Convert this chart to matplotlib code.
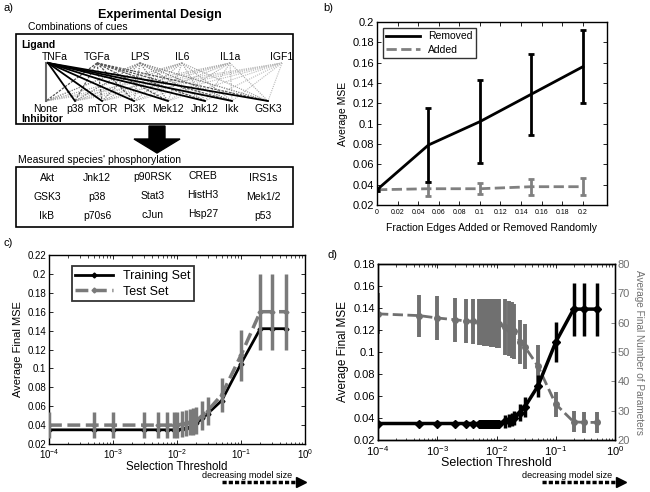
import math
import matplotlib
matplotlib.use('Agg')
import matplotlib.pyplot as plt
from matplotlib.patches import FancyArrow, Rectangle
from matplotlib.ticker import FuncFormatter, FixedLocator, LogLocator, NullFormatter

plt.rcParams['font.family'] = ['Liberation Sans', 'DejaVu Sans']
plt.rcParams['mathtext.fontset'] = 'custom'
plt.rcParams['mathtext.rm'] = 'Liberation Sans'
plt.rcParams['mathtext.it'] = 'Liberation Sans:italic'
plt.rcParams['axes.linewidth'] = 1.0

# ---- data ----
ligands = ['TNFa', 'TGFa', 'LPS', 'IL6', 'IL1a', 'IGF1']
inhibitors = ['None', 'p38', 'mTOR', 'PI3K', 'Mek12', 'Jnk12', 'Ikk', 'GSK3']
species_cols = [['Akt', 'GSK3', 'IkB'],
                ['Jnk12', 'p38', 'p70s6'],
                ['p90RSK', 'Stat3', 'cJun'],
                ['CREB', 'HistH3', 'Hsp27'],
                ['IRS1s', 'Mek1/2', 'p53']]

# b) random edges
frac = [0, 0.05, 0.1, 0.15, 0.2]
removed_mse = [0.035, 0.079, 0.102, 0.129, 0.156]
removed_err = [0.0015, 0.036, 0.041, 0.040, 0.036]
added_mse = [0.035, 0.036, 0.036, 0.038, 0.038]
added_err = [0.0015, 0.007, 0.0055, 0.008, 0.0085]

# c) threshold vs training / test
thr_c = [1e-4, 5e-4, 1e-3, 3e-3, 5e-3, 7e-3, 9e-3, 1e-2, 0.012, 0.014,
         0.016, 0.018, 0.02, 0.025, 0.03, 0.05, 0.1, 0.2, 0.3, 0.5]
train_c = [0.035, 0.035, 0.035, 0.035, 0.035, 0.035, 0.035, 0.035, 0.036, 0.037,
           0.038, 0.040, 0.042, 0.047, 0.052, 0.066, 0.105, 0.142, 0.142, 0.142]
test_c = [0.040, 0.040, 0.040, 0.040, 0.040, 0.040, 0.040, 0.040, 0.041, 0.042,
          0.043, 0.044, 0.045, 0.050, 0.055, 0.072, 0.114, 0.160, 0.160, 0.160]
test_err_c = [0.014, 0.014, 0.014, 0.014, 0.014, 0.014, 0.014, 0.014, 0.014, 0.014,
              0.014, 0.014, 0.014, 0.015, 0.015, 0.018, 0.027, 0.040, 0.040, 0.040]

# d) threshold vs MSE and number of parameters
thr_d = [1e-4, 5e-4, 1e-3, 2e-3, 3e-3, 4e-3,
         5e-3, 5.25e-3, 5.5e-3, 5.75e-3, 6e-3, 6.25e-3, 6.5e-3, 6.75e-3, 7e-3, 7.25e-3,
         7.5e-3, 7.75e-3, 8e-3, 8.25e-3, 8.5e-3, 8.75e-3, 9e-3, 9.25e-3, 9.5e-3, 9.75e-3,
         1e-2, 1.05e-2, 1.1e-2,
         0.014, 0.016, 0.018, 0.02, 0.025, 0.03, 0.05, 0.1, 0.2, 0.3, 0.5]
mse_d = [0.035, 0.035, 0.035, 0.035, 0.035, 0.035,
         0.035, 0.035, 0.035, 0.035, 0.035, 0.035, 0.035, 0.035, 0.035, 0.035,
         0.035, 0.035, 0.035, 0.035, 0.035, 0.035, 0.035, 0.035, 0.035, 0.035,
         0.035, 0.035, 0.035,
         0.037, 0.038, 0.039, 0.040, 0.045, 0.050, 0.069, 0.109, 0.139, 0.139, 0.139]
mse_err_d = [0.002, 0.002, 0.002, 0.002, 0.002, 0.002,
             0.002, 0.002, 0.002, 0.002, 0.002, 0.002, 0.002, 0.002, 0.002, 0.002,
             0.002, 0.002, 0.002, 0.002, 0.002, 0.002, 0.002, 0.002, 0.002, 0.002,
             0.002, 0.002, 0.002,
             0.006, 0.006, 0.006, 0.006, 0.008, 0.009, 0.010, 0.018, 0.024, 0.024, 0.024]
npar_d = [63.0, 62.4, 61.6, 61.0, 60.6, 60.4,
          60.3, 60.3, 60.2, 60.2, 60.2, 60.1, 60.1, 60.1, 60.0, 60.0,
          60.0, 60.0, 59.9, 59.9, 59.9, 59.9, 59.8, 59.8, 59.8, 59.8,
          59.7, 59.7, 59.6,
          58.5, 58.0, 57.5, 57.0, 53.5, 51.8, 45.2, 32.2, 26.2, 26.0, 26.0]
npar_err_d = [7.0, 7.2, 7.4, 7.5, 7.6, 7.7,
              7.8, 7.8, 7.9, 7.9, 7.9, 8.0, 8.0, 8.0, 8.0, 8.0,
              8.1, 8.1, 8.1, 8.1, 8.1, 8.2, 8.2, 8.2, 8.2, 8.2,
              8.3, 8.3, 8.3,
              9.5, 9.5, 9.5, 9.5, 7.5, 7.7, 7.1, 4.2, 3.6, 3.6, 3.6]

W, H = 650, 492
fig = plt.figure(figsize=(6.5, 4.92), dpi=100)


def px_axes(l, t, r, b):
    return fig.add_axes([l / W, 1 - b / H, (r - l) / W, (b - t) / H])


def matlab_style(ax, size=8):
    ax.tick_params(direction='in', top=True, right=True, length=3, width=0.6,
                   labelsize=size, pad=2)
    ax.tick_params(axis='x', pad=3)
    ax.tick_params(which='minor', direction='in', top=True, right=True, length=1.8, width=0.5)


gfmt = FuncFormatter(lambda v, p: f'{round(v, 4):g}')
logfmt = FuncFormatter(lambda v, p: r'$10^{%d}$' % round(math.log10(v)))

# ---- overlay for panel a and annotations ----
ov = fig.add_axes([0, 0, 1, 1])
ov.set_xlim(0, W)
ov.set_ylim(H, 0)
ov.axis('off')
ov.set_zorder(5)

ov.text(3, 8, 'a)', fontsize=8, va='center')
ov.text(160, 15, 'Experimental Design', fontsize=9, weight='bold', ha='center', va='center')
ov.text(28, 27, 'Combinations of cues', fontsize=7.5, va='center')
ov.add_patch(Rectangle((16, 34), 277, 90, fill=False, lw=1.2, ec='black'))
ov.text(21, 45, 'Ligand', fontsize=7.5, weight='bold', va='center')
ov.text(21, 119, 'Inhibitor', fontsize=7.5, weight='bold', va='center')

lig_x = [55, 97, 140, 182, 230, 282]
inh_x = [46, 75, 102, 134, 168, 205, 232, 268]
lig_styles = [('black', '-', 1.3), ('#555555', (0, (2, 1)), 0.9), ('#7a7a7a', (0, (1, 1)), 0.9),
              ('#9a9a9a', (0, (1, 1)), 0.8), ('#aaaaaa', (0, (1, 1)), 0.8), ('#bbbbbb', (0, (1, 1)), 0.8)]
for i in range(len(ligands) - 1, -1, -1):
    col, ls, lw = lig_styles[i]
    sx = 48 if i == 0 else lig_x[i]
    for j in range(len(inhibitors)):
        if i == 0 and j == 0:
            ov.plot([46, 46], [63, 101], color='#666666', lw=1.5, zorder=3)
            continue
        ov.plot([sx, inh_x[j]], [63, 101], color=col, ls=ls, lw=lw, zorder=3 if i == 0 else 2)
for name, x in zip(ligands, lig_x):
    ov.text(x, 57, name, fontsize=7.5, ha='center', va='center', zorder=4)
for name, x in zip(inhibitors, inh_x):
    ov.text(x, 108.5, name, fontsize=7.5, ha='center', va='center', zorder=4)

ov.add_patch(FancyArrow(157, 126, 0, 27, width=16, head_width=46, head_length=14,
                        length_includes_head=True, color='black'))
ov.text(18, 160, "Measured species' phosphorylation", fontsize=7.5, va='center')
ov.add_patch(Rectangle((16, 167), 277, 60, fill=False, lw=1.2, ec='black'))
col_x = [47, 97, 153, 203, 263]
row_y = [178, 197, 216]
col_dy = [0, 0, -1, -2, 0]
for c, names in enumerate(species_cols):
    for r, name in enumerate(names):
        ov.text(col_x[c], row_y[r] + col_dy[c], name, fontsize=7.5, ha='center', va='center')

ov.text(323, 8, 'b)', fontsize=8, va='center')
ov.text(3, 243, 'c)', fontsize=8, va='center')
ov.text(327, 255, 'd)', fontsize=8, va='center')


def model_size_arrow(tx, x0, x1, y):
    ov.text(tx, y - 6, 'decreasing model size', fontsize=6.5, ha='left', va='center')
    ov.plot([x0, x1 - 8], [y, y], color='black', lw=2.5, ls=(0, (1.2, 0.6)))
    ov.plot([x1 - 4], [y], marker='>', color='black', markersize=7)


model_size_arrow(202, 222, 305, 482)
model_size_arrow(522, 542, 625, 482)

# ---- b) ----
axb = px_axes(377, 22, 607, 205)
axb.errorbar(frac, removed_mse, yerr=removed_err, color='black', lw=2, elinewidth=2,
             capsize=2.5, capthick=2, label='Removed', zorder=3)
axb.errorbar(frac, added_mse, yerr=added_err, color='#808080', lw=2, ls='--', elinewidth=2,
             capsize=2.5, capthick=2, label='Added', zorder=2)
axb.set_xlim(0, 0.2235)
axb.set_ylim(0.02, 0.2)
axb.xaxis.set_major_locator(FixedLocator([0, 0.02, 0.04, 0.06, 0.08, 0.1, 0.12, 0.14, 0.16, 0.18, 0.2]))
axb.yaxis.set_major_locator(FixedLocator([0.02, 0.04, 0.06, 0.08, 0.1, 0.12, 0.14, 0.16, 0.18, 0.2]))
axb.xaxis.set_major_formatter(gfmt)
axb.yaxis.set_major_formatter(gfmt)
matlab_style(axb, 8)
axb.tick_params(axis='x', labelsize=5, pad=3)
axb.set_xlabel('Fraction Edges Added or Removed Randomly', fontsize=7.5, labelpad=5)
axb.set_ylabel('Average MSE', fontsize=7.5, labelpad=3)
hb, lb = axb.get_legend_handles_labels()
hb = [h[0] for h in hb]
legb = axb.legend(hb, lb, loc='upper left', fontsize=7.5, frameon=True, fancybox=False,
                  edgecolor='black', handlelength=3.2, borderaxespad=0.6, borderpad=0.3,
                  labelspacing=0.3)
legb.get_frame().set_linewidth(1.0)

# ---- c) ----
axc = px_axes(49, 255, 305, 444)
axc.plot(thr_c, train_c, color='black', lw=2, marker='D', markersize=2.5, label='Training Set', zorder=3)
axc.errorbar(thr_c, test_c, yerr=test_err_c, fmt='none', ecolor='#7a7a7a', elinewidth=2.5, zorder=4)
axc.plot(thr_c, test_c, color='#7a7a7a', lw=2.5, ls='--', marker='D', markersize=2.5,
         label='Test Set', zorder=4)
axc.set_xscale('log')
axc.set_xlim(1e-4, 1)
axc.set_ylim(0.02, 0.22)
axc.xaxis.set_major_locator(LogLocator(base=10, numticks=10))
axc.xaxis.set_minor_locator(LogLocator(base=10, subs=range(2, 10), numticks=20))
axc.xaxis.set_minor_formatter(NullFormatter())
axc.xaxis.set_major_formatter(logfmt)
axc.yaxis.set_major_locator(FixedLocator([0.02, 0.04, 0.06, 0.08, 0.1, 0.12, 0.14, 0.16, 0.18, 0.2, 0.22]))
axc.yaxis.set_major_formatter(gfmt)
matlab_style(axc, 7)
axc.tick_params(axis='x', pad=2)
axc.set_xlabel('Selection Threshold', fontsize=8.3, labelpad=0)
axc.set_ylabel('Average Final MSE', fontsize=8, labelpad=3)
legc = axc.legend(loc='upper left', fontsize=9, frameon=True, fancybox=False, edgecolor='black',
                  handlelength=3, borderaxespad=1.2, borderpad=0.3, labelspacing=0.3,
                  bbox_to_anchor=(0.03, 1.02))
legc.get_frame().set_linewidth(1.3)

# ---- d) ----
axd = px_axes(378, 264, 615, 440)
axd2 = axd.twinx()
axd2.errorbar(thr_d, npar_d, yerr=npar_err_d, color='#707070', lw=2, ls='--', marker='o',
              markersize=4, elinewidth=2.8, zorder=2)
axd.errorbar(thr_d, mse_d, yerr=mse_err_d, color='black', lw=2.5, marker='D', markersize=4,
             elinewidth=2.5, zorder=3)
axd.set_zorder(axd2.get_zorder() + 1)
axd.patch.set_visible(False)
axd.set_xscale('log')
axd.set_xlim(1e-4, 1)
axd.set_ylim(0.02, 0.18)
axd2.set_ylim(20, 80)
axd.xaxis.set_major_locator(LogLocator(base=10, numticks=10))
axd.xaxis.set_minor_locator(LogLocator(base=10, subs=range(2, 10), numticks=20))
axd.xaxis.set_minor_formatter(NullFormatter())
axd.xaxis.set_major_formatter(logfmt)
axd.yaxis.set_major_locator(FixedLocator([0.02, 0.04, 0.06, 0.08, 0.1, 0.12, 0.14, 0.16, 0.18]))
axd.yaxis.set_major_formatter(gfmt)
axd.tick_params(direction='in', top=True, right=False, length=3, width=0.6, labelsize=8, pad=2)
axd.tick_params(axis='x', pad=3)
axd.tick_params(which='minor', direction='in', top=True, right=False, length=1.8, width=0.5)
axd2.tick_params(direction='in', length=3, width=0.6, labelsize=8, pad=2, colors='#707070')
axd2.spines['right'].set_color('#707070')
axd.set_xlabel('Selection Threshold', fontsize=9, labelpad=-1)
axd.set_ylabel('Average Final MSE', fontsize=8.5, labelpad=3)
axd2.set_ylabel('Average Final Number of Parameters', fontsize=7.2, color='#707070',
                rotation=270, labelpad=10)

fig.savefig('out.png', dpi=100)
